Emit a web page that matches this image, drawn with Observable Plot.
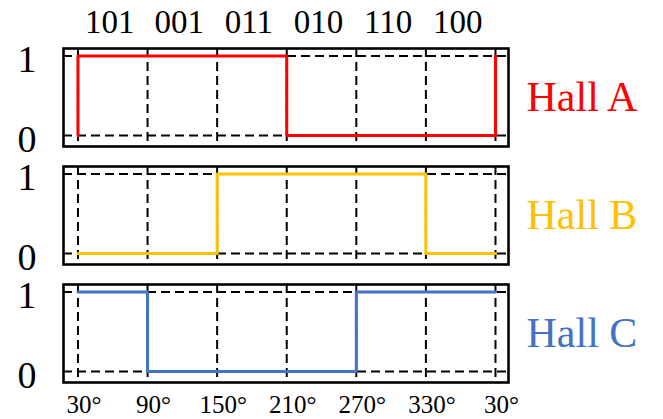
<!DOCTYPE html>
<html><head><meta charset="utf-8">
<script src="https://cdn.jsdelivr.net/npm/d3@7"></script>
<script src="https://cdn.jsdelivr.net/npm/@observablehq/plot@0.6"></script>
<style>
body{margin:0;background:#fff;}
</style></head><body><div id="chart"></div>
<script>
const halls = ["Hall A", "Hall B", "Hall C"];
const hallColors = ["#FF0000", "#FFC000", "#4472C4"];
const codes = ["101", "001", "011", "010", "110", "100"];
const angleLabels = ["30°", "90°", "150°", "210°", "270°", "330°", "30°"];
const hallA = [1, 1, 1, 0, 0, 0];
const hallB = [0, 0, 1, 1, 1, 0];
const hallC = [1, 0, 0, 0, 1, 1];
const yTicks = [0, 1];

const series = [hallA, hallB, hallC];
const boundaries = angleLabels.map((_, i) => i);
const points = series.flatMap((vals, k) => [
  {hall: halls[k], x: 0, y: vals[vals.length - 1]},
  ...vals.map((v, i) => ({hall: halls[k], x: i, y: v})),
  {hall: halls[k], x: vals.length, y: vals[0]}
]);

const chart = Plot.plot({
  width: 663, height: 419,
  marginTop: 48, marginBottom: 37, marginLeft: 63, marginRight: 155,
  style: {fontFamily: "'Liberation Serif', 'Times New Roman', serif", background: "#fff", color: "#000"},
  x: {domain: [-0.208, 6.187], label: null, axis: null},
  y: {domain: [-0.14, 1.095], label: null, axis: null},
  fy: {domain: halls, paddingInner: 0.172, paddingOuter: 0, axis: null, label: null},
  color: {domain: halls, range: hallColors},
  marks: [
    Plot.gridX(boundaries, {stroke: "#000", strokeOpacity: 1, strokeWidth: 2, strokeDasharray: "9,5"}),
    Plot.gridY(yTicks, {stroke: "#000", strokeOpacity: 1, strokeWidth: 2, strokeDasharray: "9,5"}),
    Plot.line(points, {x: "x", y: "y", fy: "hall", stroke: "hall", strokeWidth: 3, curve: "step-after"}),
    Plot.frame({stroke: "#000", strokeWidth: 2.6}),
    // y tick labels (every panel)
    Plot.text(yTicks, {y: d => d, text: d => String(d), frameAnchor: "left", dx: -27, dy: 4, textAnchor: "end", lineAnchor: "middle", fontSize: 38, fill: "#000"}),
    // bottom angle labels (last panel only)
    Plot.text(angleLabels, {x: (d, i) => i, text: d => d, fy: () => halls[halls.length - 1], frameAnchor: "bottom", dy: 13, dx: 6, lineAnchor: "top", fontSize: 25, fill: "#000"}),
    // top code labels (first panel only)
    Plot.text(codes, {x: (d, i) => i + 0.5, text: d => d, fy: () => halls[0], frameAnchor: "top", dy: -16, dx: -3, lineAnchor: "bottom", fontSize: 33, fill: "#000"}),
    // hall labels on the right
    Plot.text(halls, {fy: d => d, text: d => d, fill: d => d, frameAnchor: "right", dx: 18, textAnchor: "start", lineAnchor: "middle", fontSize: 42, ariaLabel: "hall-label"})
  ]
});
document.getElementById("chart").appendChild(chart);
d3.select(chart).selectAll('g[aria-label="hall-label"] text').style("letter-spacing", "1.6px");
</script></body></html>
